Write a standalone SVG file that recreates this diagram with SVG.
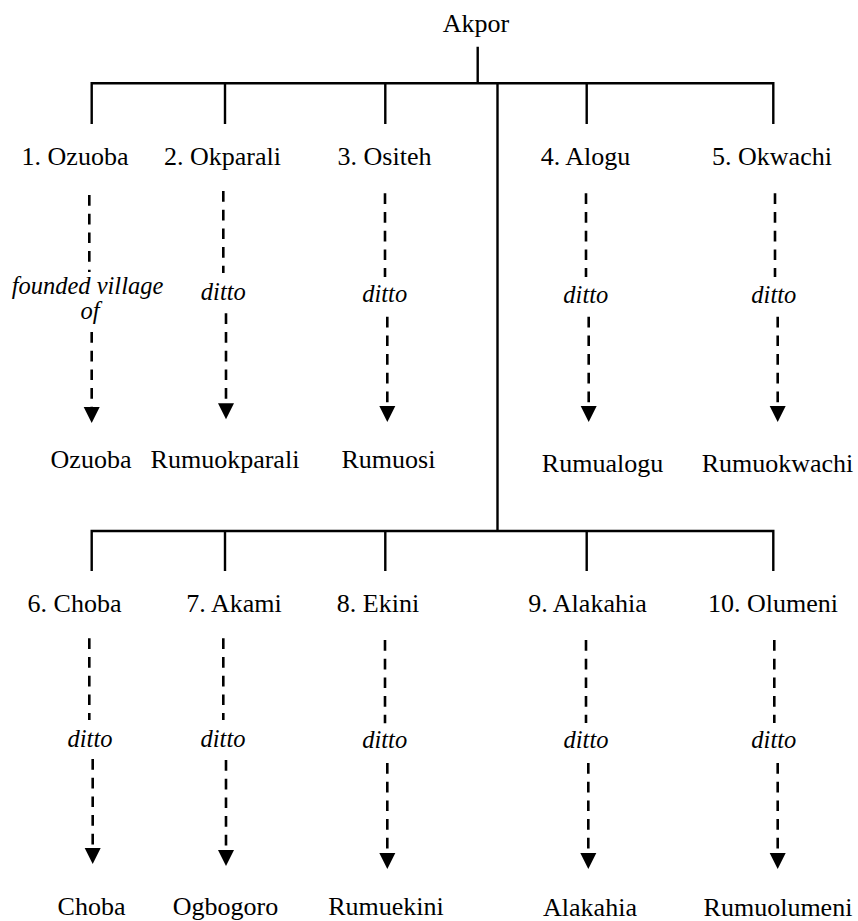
<svg xmlns="http://www.w3.org/2000/svg" xmlns:xlink="http://www.w3.org/1999/xlink" width="858" height="921" viewBox="0 0 858 921" font-family="Liberation Serif, Times New Roman, serif">
  <style>
    text { fill: #000; text-anchor: middle; }
    .lbl { font-size: 26px; }
    .note { font-size: 24.5px; font-style: italic; }
    .tree { stroke: #000; stroke-width: 2.4; fill: none; }
    .dash { stroke: #000; stroke-width: 2.6; fill: none; stroke-dasharray: 10.7 8; }
    .head { fill: #000; }
  </style>
  <defs>
    <path id="ah" class="head" d="M-8 0H8L0 16Z"/>
  </defs>
  <rect width="858" height="921" fill="#fff"/>

  <!-- lineage tree: stem, bars and drops -->
  <g id="connectors">
    <path class="tree" d="M477.7 46.7V83.3M91.7 124V83.3H773.3V124M225 83.3V124M385.3 83.3V124M586.7 83.3V124M497.5 83.3V531"/>
    <path class="tree" d="M91.7 571V531H773.3V571M225 531V571M385.3 531V571M586.7 531V571"/>

    <!-- founder to village, first row -->
    <path class="dash" d="M89.3 195V272M91.7 332V407"/>
    <use xlink:href="#ah" x="91.7" y="407"/>
    <path class="dash" d="M223.3 191V273M226 313.3V403.3"/>
    <use xlink:href="#ah" x="226" y="403.3"/>
    <path class="dash" d="M385 193.3V277M387.3 316.7V406"/>
    <use xlink:href="#ah" x="387.3" y="406"/>
    <path class="dash" d="M586 193.3V277M588.7 316.7V406"/>
    <use xlink:href="#ah" x="588.7" y="406"/>
    <path class="dash" d="M775 193.3V277M777.7 316.7V406"/>
    <use xlink:href="#ah" x="777.7" y="406"/>

    <!-- founder to village, second row -->
    <path class="dash" d="M89.3 638.3V720M92.7 759V848"/>
    <use xlink:href="#ah" x="92.7" y="848"/>
    <path class="dash" d="M223.3 638.3V720M226 760V850"/>
    <use xlink:href="#ah" x="226" y="850"/>
    <path class="dash" d="M385 640V723.3M387.3 763V853"/>
    <use xlink:href="#ah" x="387.3" y="853"/>
    <path class="dash" d="M586 640V723M588.3 763V853"/>
    <use xlink:href="#ah" x="588.3" y="853"/>
    <path class="dash" d="M774.3 640V723M777.7 763V853"/>
    <use xlink:href="#ah" x="777.7" y="853"/>

    <!-- relation labels -->
    <text class="note" x="87.5" y="294">founded village</text>
    <text class="note" x="90" y="319">of</text>
    <text class="note" x="223.3" y="300">ditto</text>
    <text class="note" x="384.7" y="302">ditto</text>
    <text class="note" x="585.8" y="302.7">ditto</text>
    <text class="note" x="773.8" y="302.7">ditto</text>
    <text class="note" x="90" y="746.7">ditto</text>
    <text class="note" x="223" y="746.7">ditto</text>
    <text class="note" x="384.7" y="748">ditto</text>
    <text class="note" x="586" y="748">ditto</text>
    <text class="note" x="773.8" y="748">ditto</text>
  </g>

  <g id="akpor"><text class="lbl" x="476" y="32">Akpor</text></g>

  <g id="ozuoba"><text class="lbl" x="75" y="165">1. Ozuoba</text></g>
  <g id="okparali"><text class="lbl" x="222.5" y="165">2. Okparali</text></g>
  <g id="ositeh"><text class="lbl" x="384.5" y="165">3. Ositeh</text></g>
  <g id="alogu"><text class="lbl" x="585.5" y="165">4. Alogu</text></g>
  <g id="okwachi"><text class="lbl" x="772" y="165">5. Okwachi</text></g>

  <g id="village-ozuoba"><text class="lbl" x="91" y="468">Ozuoba</text></g>
  <g id="village-rumuokparali"><text class="lbl" x="225" y="468">Rumuokparali</text></g>
  <g id="village-rumuosi"><text class="lbl" x="388.5" y="468">Rumuosi</text></g>
  <g id="village-rumualogu"><text class="lbl" x="602.5" y="472">Rumualogu</text></g>
  <g id="village-rumuokwachi"><text class="lbl" x="777.5" y="472">Rumuokwachi</text></g>

  <g id="choba"><text class="lbl" x="74.5" y="611.7">6. Choba</text></g>
  <g id="akami"><text class="lbl" x="234" y="611.7">7. Akami</text></g>
  <g id="ekini"><text class="lbl" x="378" y="611.7">8. Ekini</text></g>
  <g id="alakahia"><text class="lbl" x="587.5" y="611.7">9. Alakahia</text></g>
  <g id="olumeni"><text class="lbl" x="773" y="611.7">10. Olumeni</text></g>

  <g id="village-choba"><text class="lbl" x="91.5" y="915">Choba</text></g>
  <g id="village-ogbogoro"><text class="lbl" x="225.5" y="915">Ogbogoro</text></g>
  <g id="village-rumuekini"><text class="lbl" x="386" y="915">Rumuekini</text></g>
  <g id="village-alakahia"><text class="lbl" x="590" y="916">Alakahia</text></g>
  <g id="village-rumuolumeni"><text class="lbl" x="778" y="916">Rumuolumeni</text></g>
</svg>
